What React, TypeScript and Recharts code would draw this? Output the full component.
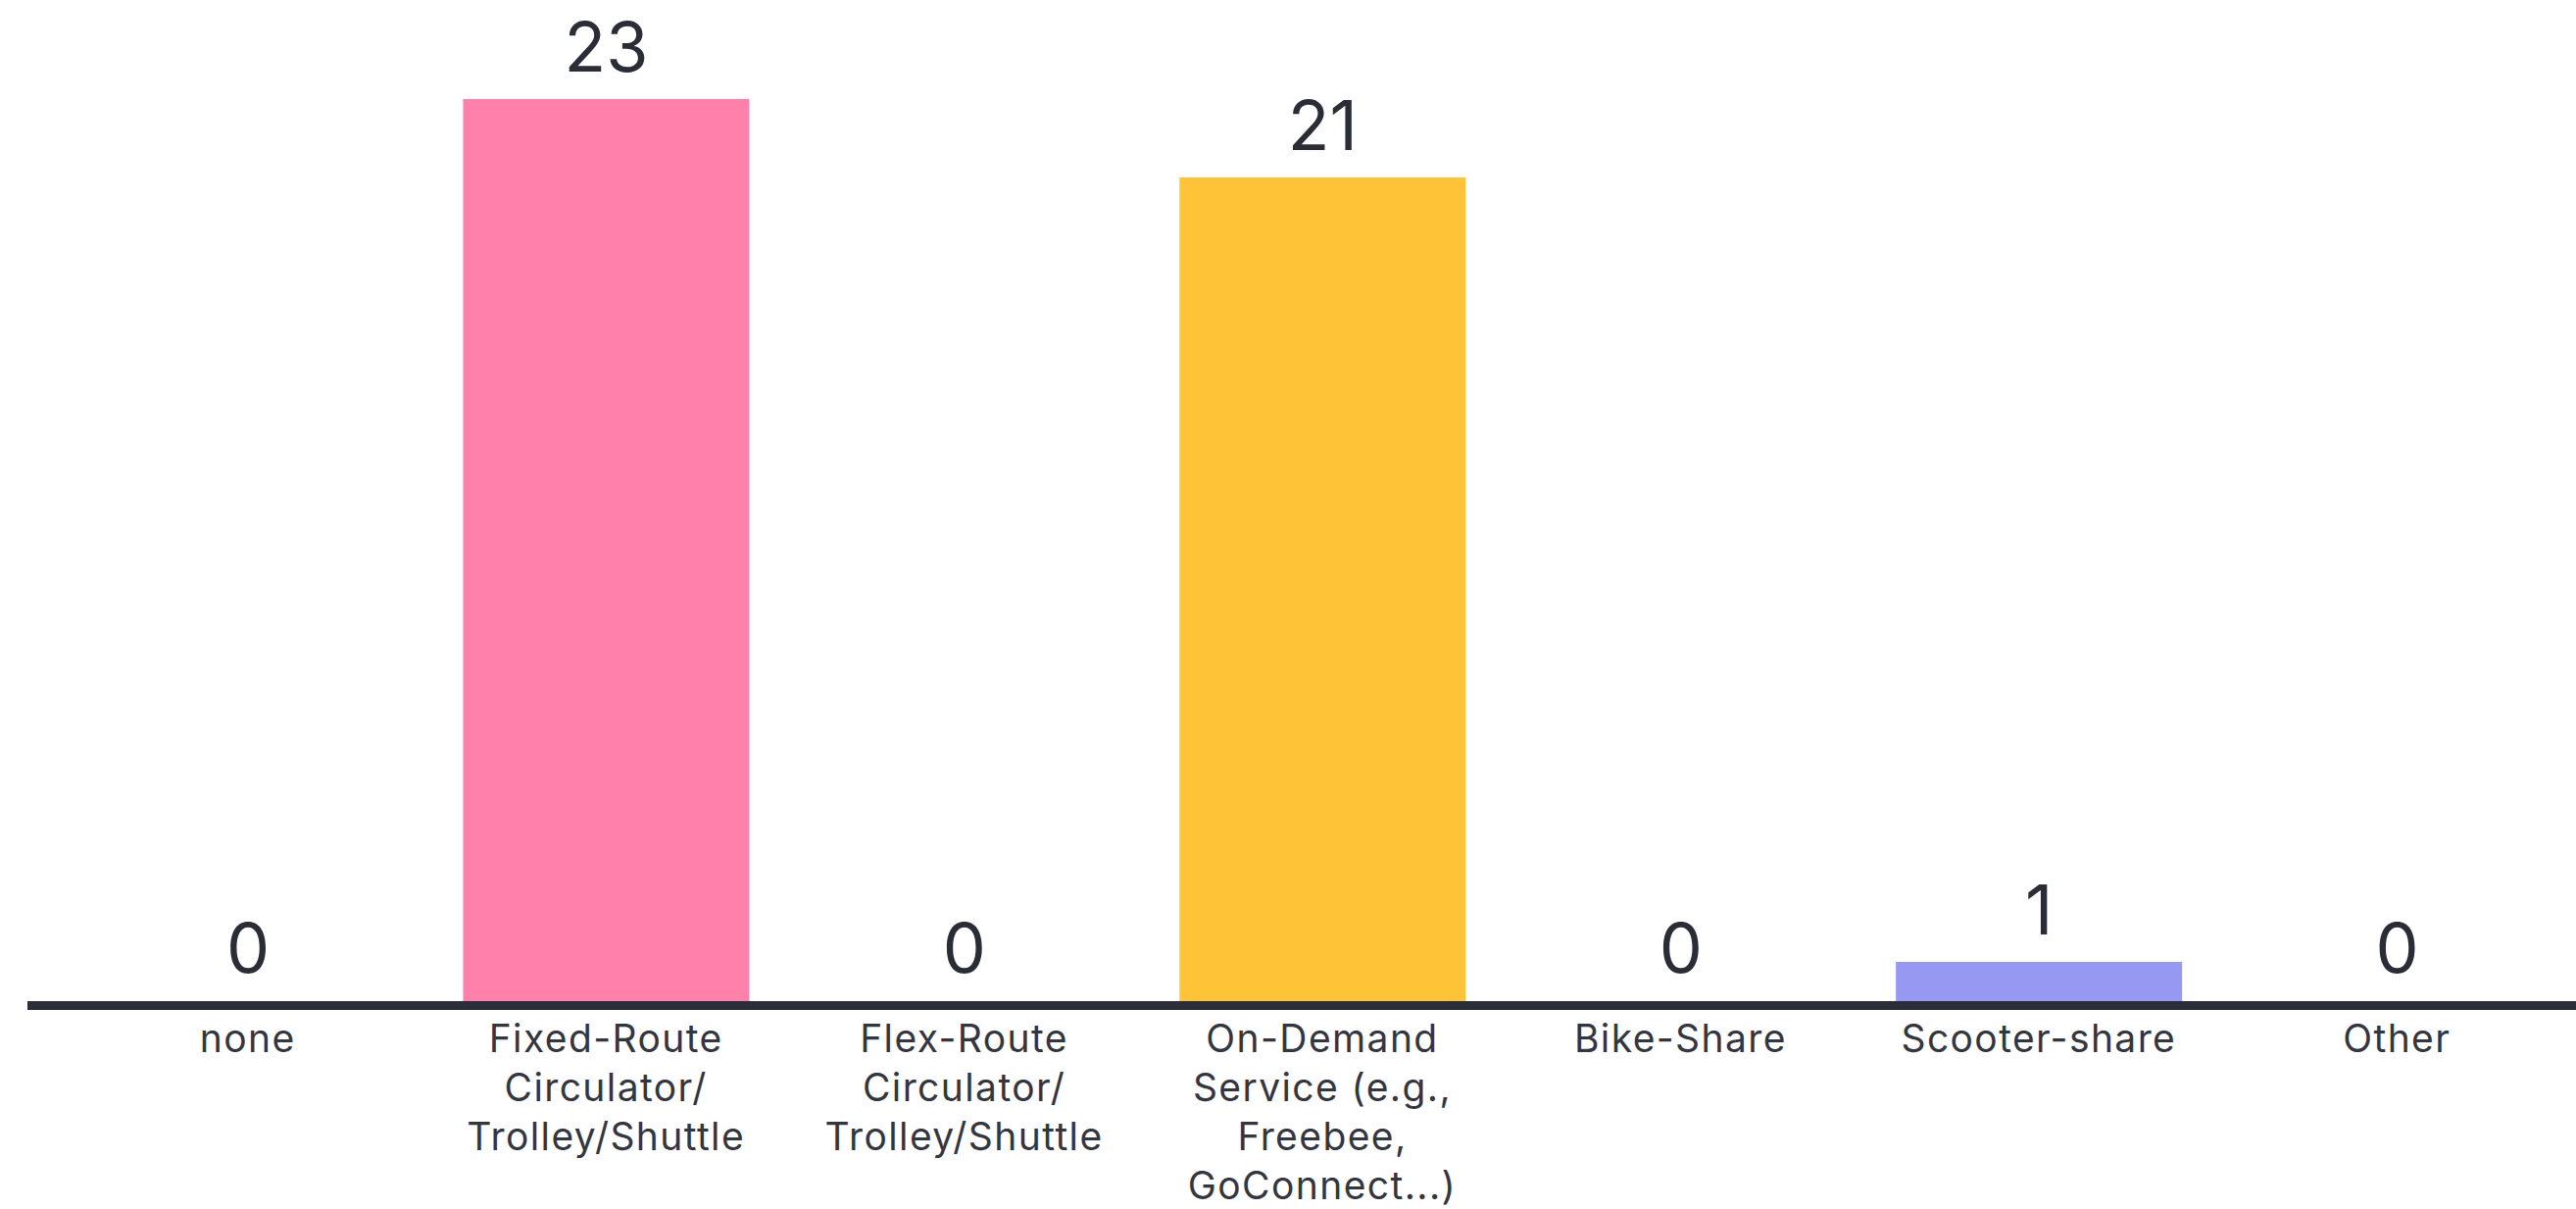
import React from "react";
import { BarChart, Bar, XAxis, YAxis, Cell, LabelList } from "recharts";

const categories = [
  "none",
  "Fixed-Route Circulator/Trolley/Shuttle",
  "Flex-Route Circulator/Trolley/Shuttle",
  "On-Demand Service (e.g., Freebee, GoConnect...)",
  "Bike-Share",
  "Scooter-share",
  "Other",
];
const counts = [0, 23, 0, 21, 0, 1, 0];
const tickLabelLines = [
  ["none"],
  ["Fixed-Route", "Circulator/", "Trolley/Shuttle"],
  ["Flex-Route", "Circulator/", "Trolley/Shuttle"],
  ["On-Demand", "Service (e.g.,", "Freebee,", "GoConnect...)"],
  ["Bike-Share"],
  ["Scooter-share"],
  ["Other"],
];
const barColors = ["#5769E7", "#FF80AB", "#3B3B3B", "#FFC338", "#6AD6C4", "#9698F2", "#F5A37A"];

const data = categories.map((c, i) => ({ name: c, value: counts[i], idx: i }));

const FONT = "Inter, 'Noto Sans', sans-serif";

const CustomTick = (props: any) => {
  const { x, y, payload } = props;
  const lines = tickLabelLines[payload.index] || [String(payload.value)];
  return (
    <text
      x={x}
      y={y}
      textAnchor="middle"
      fill="#34363f"
      fontFamily={FONT}
      fontSize={39}
      letterSpacing={1.4}
    >
      {lines.map((l: string, i: number) => (
        <tspan key={i} x={x} dy={i === 0 ? 44 : 50}>
          {l}
        </tspan>
      ))}
    </text>
  );
};

export default function App() {
  return (
    <div style={{ position: "absolute", left: 0, top: 0, width: 2628, height: 1233, background: "#fff" }}>
      <BarChart
        width={2628}
        height={1233}
        data={data}
        margin={{ top: 101, right: 0, bottom: 0, left: 28 }}
        barSize={292}
      >
        <YAxis hide domain={[0, 23]} />
        <XAxis
          dataKey="name"
          interval={0}
          height={212}
          padding={{ left: 42, right: 0 }}
          tickLine={false}
          axisLine={{ stroke: "#2b2e38", strokeWidth: 9, transform: "translate(0,4.5)" }}
          tick={<CustomTick />}
        />
        <Bar dataKey="value" isAnimationActive={false} minPointSize={1}>
          {data.map((d, i) => (
            <Cell key={i} fill={barColors[i]} fillOpacity={d.value === 0 ? 0 : 1} />
          ))}
          <LabelList
            dataKey="value"
            position="top"
            offset={28}
            fill="#2b2d36"
            fontFamily={FONT}
            fontSize={70}
          />
        </Bar>
      </BarChart>
    </div>
  );
}
